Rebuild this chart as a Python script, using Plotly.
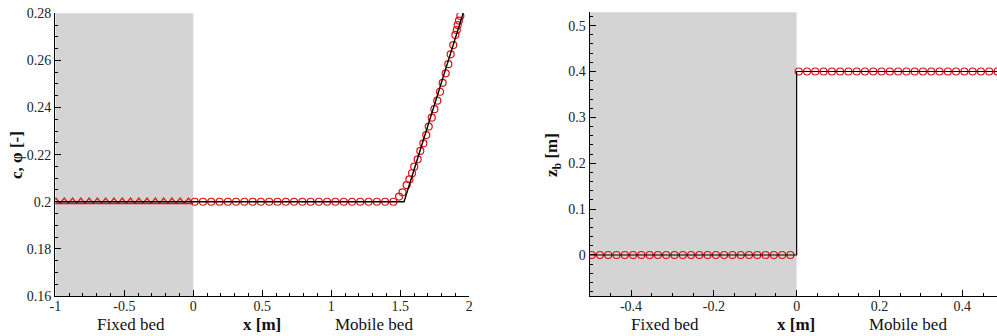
import plotly.graph_objects as go

# ---------------- left panel: concentration / porosity ----------------
# fixed-bed cells (phi), x in m
x_fixed = [-0.995, -0.935, -0.875, -0.815, -0.755, -0.695, -0.635, -0.575, -0.515,
           -0.455, -0.395, -0.335, -0.275, -0.215, -0.155, -0.095, -0.035]
phi_fixed = [0.2] * len(x_fixed)

# mobile-bed cells (c)
x_mobile = [0.01, 0.07, 0.13, 0.19, 0.25, 0.31, 0.37, 0.43, 0.49, 0.55, 0.61, 0.67,
            0.73, 0.79, 0.85, 0.91, 0.97, 1.03, 1.09, 1.15, 1.21, 1.27, 1.33, 1.39,
            1.45, 1.491, 1.516, 1.546, 1.566, 1.585, 1.601, 1.626, 1.645, 1.667,
            1.688, 1.706, 1.728, 1.747, 1.768, 1.788, 1.807, 1.829, 1.848, 1.865,
            1.884, 1.899, 1.909, 1.916, 1.925, 1.935]
c_mobile = [0.2] * 25 + [0.2022, 0.2040, 0.2071, 0.2095, 0.2121, 0.2149, 0.2180,
                         0.2216, 0.2248, 0.2283, 0.2319, 0.2357, 0.2393, 0.2429,
                         0.2467, 0.2505, 0.2545, 0.2584, 0.2626, 0.2665, 0.2708,
                         0.2729, 0.2750, 0.2769, 0.2789]

# reference solution
x_ref_c = [-1.0, 1.527, 1.957]
c_ref = [0.2, 0.2, 0.2803]

# ---------------- right panel: bed elevation ----------------
x_zb = [-0.495, -0.475, -0.455, -0.435, -0.415, -0.395, -0.375, -0.355, -0.335, -0.315,
        -0.295, -0.275, -0.255, -0.235, -0.215, -0.195, -0.175, -0.155, -0.135, -0.115,
        -0.095, -0.075, -0.055, -0.035, -0.015, 0.005, 0.025, 0.045, 0.065, 0.085,
        0.105, 0.125, 0.145, 0.165, 0.185, 0.205, 0.225, 0.245, 0.265, 0.285, 0.305,
        0.325, 0.345, 0.365, 0.385, 0.405, 0.425, 0.445, 0.465, 0.485]
zb = [0.0] * 25 + [0.4] * 25

x_ref_zb = [-0.5, 0.0, 0.0, 0.5]
zb_ref = [0.0, 0.0, 0.4, 0.4]

# tick labels
x1_ticks = [-1, -0.5, 0, 0.5, 1, 1.5, 2]
x1_text = ["-1", "-0.5", "0", "0.5", "1", "1.5", "2"]
y1_ticks = [0.16, 0.18, 0.2, 0.22, 0.24, 0.26, 0.28]
y1_text = ["0.16", "0.18", "0.2", "0.22", "0.24", "0.26", "0.28"]
x2_ticks = [-0.4, -0.2, 0, 0.2, 0.4]
x2_text = ["-0.4", "-0.2", "0", "0.2", "0.4"]
y2_ticks = [0, 0.1, 0.2, 0.3, 0.4, 0.5]
y2_text = ["0", "0.1", "0.2", "0.3", "0.4", "0.5"]

W, H = 997, 336
SERIF = "Liberation Serif"
RED = "#e01010"

fig = go.Figure()

fig.add_trace(go.Scatter(x=x_fixed, y=phi_fixed, mode="markers", xaxis="x", yaxis="y",
                         marker=dict(symbol="triangle-up-open", size=7.5, color=RED,
                                     line=dict(width=1.2, color=RED)),
                         showlegend=False))
fig.add_trace(go.Scatter(x=x_mobile, y=c_mobile, mode="markers", xaxis="x", yaxis="y",
                         marker=dict(symbol="circle-open", size=7, color=RED,
                                     line=dict(width=1.2, color=RED)),
                         showlegend=False))
fig.add_trace(go.Scatter(x=x_ref_c, y=c_ref, mode="lines", xaxis="x", yaxis="y",
                         line=dict(color="black", width=1.4), showlegend=False))

fig.add_trace(go.Scatter(x=x_zb, y=zb, mode="markers", xaxis="x2", yaxis="y2",
                         marker=dict(symbol="circle-open", size=7, color=RED,
                                     line=dict(width=1.2, color=RED)),
                         showlegend=False, cliponaxis=True))
fig.add_trace(go.Scatter(x=x_ref_zb, y=zb_ref, mode="lines", xaxis="x2", yaxis="y2",
                         line=dict(color="black", width=1.2), showlegend=False))

# plot areas in pixels
L1, R1 = 55.3, 469.3
L2 = 589.6
TOP1, TOP2, BOT = 13.3, 12.3, 296.0

tickfont = dict(family=SERIF, size=14, color="#222222")
common = dict(showgrid=False, zeroline=False, showline=True, linecolor="black",
              linewidth=1.3, ticks="inside", ticklen=6, tickwidth=1, tickcolor="black",
              tickfont=tickfont, automargin=False, tickmode="array")
minor_style = dict(ticks="inside", ticklen=3, tickwidth=1, tickcolor="black", tick0=0)

fig.update_layout(
    width=W, height=H,
    margin=dict(l=0, r=0, t=0, b=0),
    paper_bgcolor="white", plot_bgcolor="white",
    font=dict(family=SERIF),
    xaxis=dict(domain=[L1 / W, R1 / W], range=[-1, 2], anchor="y",
               tickvals=x1_ticks, ticktext=x1_text, ticklabelstandoff=-3,
               minor=dict(dtick=0.1, **minor_style), **common),
    yaxis=dict(domain=[1 - BOT / H, 1 - TOP1 / H], range=[0.16, 0.28], anchor="x",
               tickvals=y1_ticks, ticktext=y1_text,
               minor=dict(dtick=0.005, **minor_style), **common),
    xaxis2=dict(domain=[L2 / W, 1.0], range=[-0.5, (W - 796.7) / 414.0], anchor="y2",
                tickvals=x2_ticks, ticktext=x2_text, ticklabelstandoff=-3,
                minor=dict(dtick=0.05, **minor_style), **common),
    yaxis2=dict(domain=[1 - BOT / H, 1 - TOP2 / H], range=[-0.0894, 0.529], anchor="x2",
                tickvals=y2_ticks, ticktext=y2_text,
                minor=dict(dtick=0.02, **minor_style), **common),
)

# fixed-bed zones
fig.add_shape(type="rect", xref="x", yref="y domain", x0=-1, x1=0, y0=0, y1=1,
              fillcolor="#d4d4d4", line=dict(width=0), layer="below")
fig.add_shape(type="rect", xref="x2", yref="y2 domain", x0=-0.5, x1=0, y0=0, y1=1,
              fillcolor="#d4d4d4", line=dict(width=0), layer="below")

labfont = dict(family=SERIF, size=17, color="#111111")
ylab = 1 - 324 / H
for xp, txt in [(131, "Fixed bed"), (262, "<b>x [m]</b>"), (374, "Mobile bed"),
                (665, "Fixed bed"), (796, "<b>x [m]</b>"), (908, "Mobile bed")]:
    fig.add_annotation(x=xp / W, y=ylab, xref="paper", yref="paper", text=txt,
                       showarrow=False, font=labfont, xanchor="center", yanchor="middle")

fig.add_annotation(x=16 / W, y=1 - 155 / H, xref="paper", yref="paper",
                   text="<b>c, φ [-]</b>", textangle=-90, showarrow=False, font=labfont,
                   xanchor="center", yanchor="middle")
fig.add_annotation(x=553 / W, y=1 - 155 / H, xref="paper", yref="paper",
                   text="<b>z<sub>b</sub> [m]</b>", textangle=-90, showarrow=False,
                   font=labfont, xanchor="center", yanchor="middle")

fig.write_html("out.html")
